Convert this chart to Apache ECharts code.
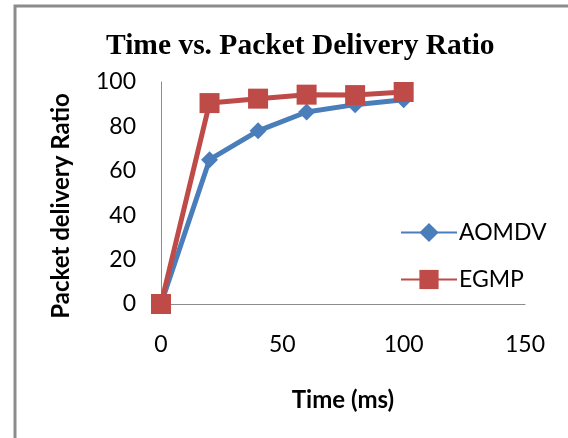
<!DOCTYPE html>
<html>
<head>
<meta charset="utf-8">
<script src="https://cdn.jsdelivr.net/npm/echarts@6/dist/echarts.min.js"></script>
<style>html,body{margin:0;padding:0;background:#fff}#c{width:568px;height:438px}</style>
</head>
<body>
<div id="c"></div>
<script>
var times = [0, 20, 40, 60, 80, 100];
var aomdv = [0, 65, 78, 86.5, 89.8, 92];
var egmp = [0, 90.5, 92.5, 94.3, 94.1, 95.5];
var xTicks = [0, 50, 100, 150];
var yTicks = [0, 20, 40, 60, 80, 100];

function pairs(xs, ys) { return xs.map(function (x, i) { return [x, ys[i]]; }); }

var chart = echarts.init(document.getElementById('c'), null, { renderer: 'canvas' });
var labelFont = 'Lato, "Open Sans", sans-serif';
chart.setOption({
  animation: false,
  backgroundColor: '#fff',
  title: {
    text: 'Time vs. Packet Delivery Ratio',
    left: 101, top: 26,
    textStyle: { fontFamily: '"Liberation Serif", serif', fontWeight: 'bold', fontSize: 29.5, color: '#000' }
  },
  graphic: [{
    type: 'rect', shape: { x: 15, y: 6, width: 620, height: 500 },
    style: { fill: 'none', stroke: '#8c8c8c', lineWidth: 3 }, z: 100
  }],
  grid: { left: 161, right: 43, top: 82, bottom: 134 },
  legend: {
    orient: 'vertical', left: 395, top: 216, itemGap: 24,
    itemWidth: 56, itemHeight: 24,
    textStyle: { fontFamily: labelFont, fontSize: 23, color: '#000', padding: [0, 0, 0, -3] },
    data: ['AOMDV', 'EGMP']
  },
  xAxis: {
    type: 'value', min: 0, max: 150, interval: 50,
    name: 'Time (ms)', nameLocation: 'middle', nameGap: 84,
    nameTextStyle: { fontFamily: labelFont, fontWeight: 'bold', fontSize: 24, color: '#000' },
    axisLine: { lineStyle: { color: '#8c8c8c', width: 1 } },
    axisTick: { show: false },
    splitLine: { show: false },
    axisLabel: { margin: 29, fontFamily: labelFont, fontSize: 23, color: '#000',
      formatter: function (v) { return xTicks.indexOf(v) >= 0 ? String(v) : ''; } }
  },
  yAxis: {
    type: 'value', min: 0, max: 100, interval: 20,
    name: 'Packet delivery Ratio', nameLocation: 'middle', nameGap: 88,
    nameTextStyle: { fontFamily: labelFont, fontWeight: 'bold', fontSize: 24, color: '#000', padding: [0, 26, 0, 0] },
    axisLine: { show: true, lineStyle: { color: '#8c8c8c', width: 1 } },
    axisTick: { show: false },
    splitLine: { show: false },
    axisLabel: { margin: 25, fontFamily: labelFont, fontSize: 23, color: '#000',
      formatter: function (v) { return yTicks.indexOf(v) >= 0 ? String(v) : ''; } }
  },
  series: [{
    name: 'AOMDV', type: 'line', data: pairs(times, aomdv),
    symbol: 'diamond', symbolSize: 17,
    lineStyle: { color: '#4a7ebb', width: 5 },
    itemStyle: { color: '#4a7ebb' }, z: 2
  }, {
    name: 'EGMP', type: 'line', data: pairs(times, egmp),
    symbol: 'rect', symbolSize: 20,
    lineStyle: { color: '#be4b48', width: 5 },
    itemStyle: { color: '#be4b48' }, z: 3
  }]
});
</script>
</body>
</html>
